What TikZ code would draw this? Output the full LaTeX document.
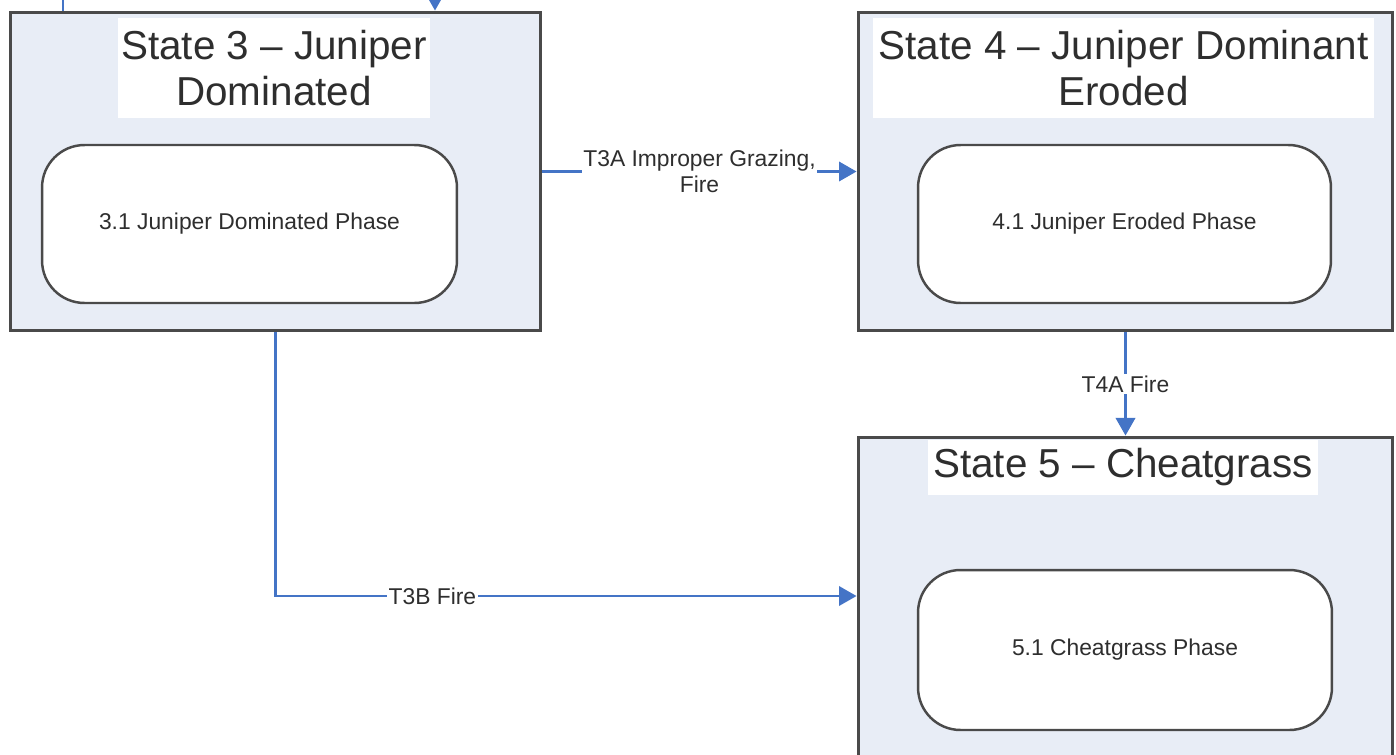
\documentclass[tikz,border=0pt]{standalone}
\usepackage{fontspec}
\setmainfont{Liberation Sans}
\usetikzlibrary{arrows.meta,positioning}

\definecolor{stateblue}{HTML}{E8EDF6}
\definecolor{edgegray}{HTML}{4A4A4A}
\definecolor{linkblue}{HTML}{4474C6}
\definecolor{textgray}{HTML}{2E2E2E}

\begin{document}
\begin{tikzpicture}[x = 0.02cm, y = -0.02cm]
			% Styles for the boxes and the links
			\tikzset{state box/.style = {draw = edgegray, line width = 1.7pt, fill = stateblue, rectangle, inner sep = 0pt}}
			\tikzset{title box/.style = {fill = white, inner sep = 0pt, align = center, text = textgray, font = \fontsize{23}{26.5}\selectfont}}
			\tikzset{phase box/.style = {draw = edgegray, line width = 1.4pt, fill = white, rounded corners = 0.85cm, align = center, text = textgray, font = \fontsize{13}{15}\selectfont, minimum height = 3.16cm}}
			\tikzset{link/.style = {draw = linkblue, line width = 1.5pt, -{Triangle[length = 10pt, width = 11pt]}}}
			\tikzset{link label/.style = {fill = white, inner sep = 1pt, align = center, text = textgray, font = \fontsize{13}{15}\selectfont}}

			% Page frame
			\clip (0, 0) rectangle (1396, 754);

			% The three states
			\node[state box, minimum width = 10.62cm, minimum height = 6.38cm] (s3) at (275.5, 171.5) {};
			\node[state box, minimum width = 10.7cm, minimum height = 6.38cm] (s4) at (1125.5, 171.5) {};
			\node[state box, minimum width = 10.7cm, minimum height = 7.26cm] (s5) at (1125.5, 618.5) {};

			% State titles
			\node[title box, minimum width = 6.24cm, minimum height = 2cm] (t3) at (274, 68) {State 3 -- Juniper\\Dominated};
			\node[title box, minimum width = 10.02cm, minimum height = 2cm] (t4) at (1123.5, 68) {State 4 -- Juniper Dominant\\Eroded};
			\node[title box, minimum width = 7.8cm, minimum height = 1.1cm] (t5) at (1123, 467.5) {State 5 -- Cheatgrass};

			% Community phases
			\node[phase box, minimum width = 8.3cm] (p31) at (249.5, 224) {3.1 Juniper Dominated Phase};
			\node[phase box, minimum width = 8.26cm] (p41) at (1124.5, 224) {4.1 Juniper Eroded Phase};
			\node[phase box, minimum width = 8.28cm, minimum height = 3.2cm] (p51) at (1125, 650) {5.1 Cheatgrass Phase};

			% Links coming in from above
			\coordinate (in1) at (63, 0);
			\coordinate (in2) at (435, 0);
			\draw[draw = linkblue, line width = 1.5pt] (in1)--(in1 |- s3.north);
			\draw[link] (in2)--(in2 |- s3.north);

			% Transitions
			\draw[link] (s3.east)--(s4.west) node[midway, link label] {T3A Improper Grazing,\\Fire};
			\draw[link] (s4.south)--(s5.north) node[midway, link label] {T4A Fire};
			\draw[link] (s3.south) |- ([yshift = 0.45cm]s5.west) node[pos = 0.635, link label] {T3B Fire};

		\end{tikzpicture}
\end{document}
